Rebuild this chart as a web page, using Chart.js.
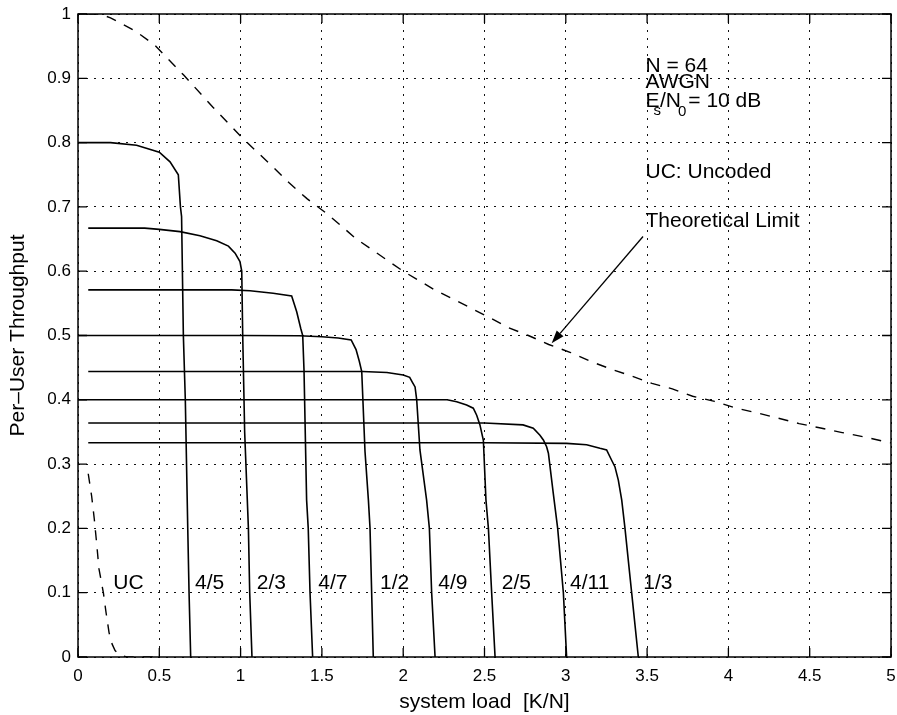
<!DOCTYPE html>
<html lang="en">
<head>
<meta charset="UTF-8">
<title>Per-User Throughput vs System Load</title>
<script src="https://cdn.jsdelivr.net/npm/chart.js"></script>
<style>
    html, body { margin: 0; padding: 0; background: #fff; }
    #wrap { width: 897px; height: 715px; }
</style>
</head>
<body>
<div id="wrap"><canvas id="tputChart" width="897" height="715"></canvas></div>
<script>
// axis ticks
const xTickLabels = ['0', '0.5', '1', '1.5', '2', '2.5', '3', '3.5', '4', '4.5', '5'];
const yTickLabels = ['0', '0.1', '0.2', '0.3', '0.4', '0.5', '0.6', '0.7', '0.8', '0.9', '1'];

// coded curves: load K/N and per-user throughput
const loadR45 = [0, 0.2, 0.36, 0.5, 0.566, 0.617, 0.63, 0.637, 0.648, 0.66, 0.675, 0.683, 0.693];
const tputR45 = [0.8, 0.8, 0.796, 0.785, 0.77, 0.75, 0.70, 0.685, 0.5, 0.4, 0.2, 0.1, 0];

const loadR23 = [0.063, 0.41, 0.5, 0.627, 0.75, 0.853, 0.925, 0.966, 0.996, 1.007, 1.013, 1.025, 1.048, 1.056, 1.07];
const tputR23 = [0.667, 0.667, 0.665, 0.6615, 0.655, 0.6475, 0.639, 0.628, 0.615, 0.6, 0.5, 0.35, 0.2, 0.1, 0];

const loadR47 = [0.063, 0.945, 1.058, 1.2, 1.314, 1.345, 1.37, 1.382, 1.39, 1.406, 1.416, 1.427, 1.443];
const tputR47 = [0.571, 0.571, 0.5697, 0.5656, 0.5614, 0.537, 0.511, 0.5, 0.446, 0.244, 0.2, 0.1, 0];

const loadR12 = [0, 1.0, 1.36, 1.5, 1.6, 1.68, 1.71, 1.73, 1.745, 1.765, 1.786, 1.796, 1.806, 1.816];
const tputR12 = [0.5, 0.5, 0.4997, 0.498, 0.496, 0.493, 0.478, 0.46, 0.444, 0.32, 0.244, 0.2, 0.1, 0];

const loadR49 = [0.063, 1.75, 1.9, 2.0, 2.04, 2.055, 2.073, 2.083, 2.103, 2.144, 2.161, 2.175, 2.196];
const tputR49 = [0.444, 0.444, 0.4425, 0.4386, 0.435, 0.428, 0.42, 0.40, 0.322, 0.244, 0.2, 0.1, 0];

const loadR25 = [0, 2.0, 2.27, 2.329, 2.39, 2.431, 2.452, 2.472, 2.493, 2.509, 2.524, 2.544, 2.565];
const tputR25 = [0.4, 0.4, 0.4, 0.397, 0.392, 0.387, 0.376, 0.361, 0.337, 0.244, 0.2, 0.1, 0];

const loadR411 = [0.063, 2.5, 2.737, 2.8, 2.841, 2.862, 2.882, 2.893, 2.923, 2.95, 2.985, 3.005];
const tputR411 = [0.364, 0.364, 0.361, 0.3557, 0.345, 0.3375, 0.327, 0.317, 0.2546, 0.2, 0.1, 0];

const loadR13 = [0.063, 2.5, 3.005, 3.128, 3.21, 3.251, 3.282, 3.302, 3.323, 3.344, 3.364, 3.405, 3.446];
const tputR13 = [0.3333, 0.3333, 0.3323, 0.33, 0.3245, 0.322, 0.306, 0.296, 0.275, 0.244, 0.2, 0.1, 0];

// uncoded
const loadUC = [0.063, 0.084, 0.1, 0.115, 0.129, 0.156, 0.172, 0.191, 0.21, 0.228, 0.258, 0.3, 0.5];
const tputUC = [0.285, 0.25, 0.215, 0.176, 0.137, 0.1, 0.07, 0.038, 0.02, 0.01, 0.003, 0, 0];

// theoretical limit
const loadLimit = [0.063, 0.135, 0.2, 0.35, 0.47, 0.65, 0.83, 1.015, 1.2, 1.3, 1.41, 1.515, 1.61, 1.71,
    2.0, 2.2, 2.41, 2.53, 2.645, 2.77, 2.895, 3.03, 3.15, 3.27, 3.41, 3.53, 3.655, 3.78, 3.915,
    4.04, 4.18, 4.305, 4.435, 4.56, 4.7, 4.83, 5.0];
const tputLimit = [1.0, 1.0, 0.994, 0.974, 0.952, 0.905, 0.855, 0.806, 0.762, 0.737, 0.7125, 0.6925, 0.6725, 0.6505,
    0.60, 0.57, 0.5435, 0.528, 0.5125, 0.50, 0.486, 0.4735, 0.46, 0.4485, 0.4365, 0.4255, 0.417, 0.4055, 0.3975,
    0.3875, 0.3795, 0.3715, 0.363, 0.3565, 0.349, 0.3425, 0.333];

// curve labels along the bottom
const rateLabels = ['UC', '4/5', '2/3', '4/7', '1/2', '4/9', '2/5', '4/11', '1/3'];
const rateLabelX = [0.217, 0.72, 1.099, 1.478, 1.857, 2.216, 2.606, 3.026, 3.477];
const rateLabelY = 0.106;

// notes in the upper right
const noteLines = ['N = 64', 'AWGN', null, 'UC: Uncoded', 'Theoretical Limit'];
const noteX = 3.49;
const noteY = [0.9103, 0.8844, 0.8558, 0.7445, 0.6692];
const arrowFrom = [3.475, 0.654];
const arrowTo = [2.913, 0.488];

const FONT = '"Liberation Sans", Arial, Helvetica, sans-serif';

function pts(xs, ys) {
    return xs.map((x, i) => ({ x: x, y: ys[i] }));
}

function curve(xs, ys, dash) {
    return {
        data: pts(xs, ys),
        showLine: true,
        borderColor: '#000',
        borderWidth: dash ? 1.4 : 1.6,
        borderDash: dash || [],
        pointRadius: 0,
        tension: 0,
        fill: false
    };
}

const datasets = [
    curve(loadLimit, tputLimit, [10, 9]),
    curve(loadUC, tputUC, [10, 9]),
    curve(loadR45, tputR45),
    curve(loadR23, tputR23),
    curve(loadR47, tputR47),
    curve(loadR12, tputR12),
    curve(loadR49, tputR49),
    curve(loadR25, tputR25),
    curve(loadR411, tputR411),
    curve(loadR13, tputR13)
];

// box around the plot with inward tick marks on all four sides
const frame = {
    id: 'frame',
    afterDraw(chart) {
        const { ctx, chartArea: a, scales } = chart;
        ctx.save();
        ctx.strokeStyle = '#000';
        ctx.lineWidth = 1.5;
        ctx.strokeRect(a.left, a.top, a.right - a.left, a.bottom - a.top);
        ctx.lineWidth = 1.3;
        const len = 9;
        ctx.beginPath();
        scales.x.ticks.forEach(t => {
            const px = scales.x.getPixelForValue(t.value);
            ctx.moveTo(px, a.bottom); ctx.lineTo(px, a.bottom - len);
            ctx.moveTo(px, a.top); ctx.lineTo(px, a.top + len);
        });
        scales.y.ticks.forEach(t => {
            const py = scales.y.getPixelForValue(t.value);
            ctx.moveTo(a.left, py); ctx.lineTo(a.left + len, py);
            ctx.moveTo(a.right, py); ctx.lineTo(a.right - len, py);
        });
        ctx.stroke();
        ctx.restore();
    }
};

// rate labels, notes and the arrow to the limit curve
const notes = {
    id: 'notes',
    afterDatasetsDraw(chart) {
        const { ctx, scales } = chart;
        const X = v => scales.x.getPixelForValue(v);
        const Y = v => scales.y.getPixelForValue(v);
        ctx.save();
        ctx.fillStyle = '#000';
        ctx.textAlign = 'left';
        ctx.textBaseline = 'alphabetic';
        ctx.font = '21px ' + FONT;

        rateLabels.forEach((s, i) => ctx.fillText(s, X(rateLabelX[i]), Y(rateLabelY)));

        const x0 = X(noteX);
        noteLines.forEach((s, i) => {
            if (s) ctx.fillText(s, x0, Y(noteY[i]));
        });

        // E_s/N_0 = 10 dB
        const yb = Y(noteY[2]);
        let x = x0;
        ctx.font = '21px ' + FONT;
        ctx.fillText('E', x, yb);
        x += ctx.measureText('E').width - 6;
        ctx.font = '15px ' + FONT;
        ctx.fillText('s', x, yb + 8);
        x += ctx.measureText('s').width - 1;
        ctx.font = '21px ' + FONT;
        ctx.fillText('/N', x, yb);
        x += ctx.measureText('/N').width - 3;
        ctx.font = '15px ' + FONT;
        ctx.fillText('0', x, yb + 9);
        x += ctx.measureText('0').width + 2;
        ctx.font = '21px ' + FONT;
        ctx.fillText('= 10 dB', x, yb);

        // arrow
        const ax = X(arrowFrom[0]), ay = Y(arrowFrom[1]);
        const bx = X(arrowTo[0]), by = Y(arrowTo[1]);
        const ang = Math.atan2(by - ay, bx - ax);
        const hl = 13, hw = 4.5;
        ctx.strokeStyle = '#000';
        ctx.lineWidth = 1.3;
        ctx.beginPath();
        ctx.moveTo(ax, ay);
        ctx.lineTo(bx - Math.cos(ang) * hl, by - Math.sin(ang) * hl);
        ctx.stroke();
        ctx.beginPath();
        ctx.moveTo(bx, by);
        ctx.lineTo(bx - Math.cos(ang) * hl + Math.sin(ang) * hw, by - Math.sin(ang) * hl - Math.cos(ang) * hw);
        ctx.lineTo(bx - Math.cos(ang) * hl - Math.sin(ang) * hw, by - Math.sin(ang) * hl + Math.cos(ang) * hw);
        ctx.closePath();
        ctx.fill();
        ctx.restore();
    }
};

const dotted = { color: '#111', lineWidth: 1, drawTicks: false };

const ctx = document.getElementById('tputChart').getContext('2d');
new Chart(ctx, {
    type: 'scatter',
    data: { datasets: datasets },
    options: {
        responsive: false,
        animation: false,
        layout: { padding: { top: 14, right: 6, left: 0, bottom: 0 } },
        plugins: { legend: { display: false }, tooltip: { enabled: false } },
        scales: {
            x: {
                type: 'linear', min: 0, max: 5,
                afterFit: s => { s.height = 58; s.paddingLeft = 0; s.paddingRight = 0; },
                ticks: {
                    stepSize: 0.5, padding: 9, color: '#000',
                    font: { family: FONT, size: 17 },
                    callback: (v, i) => xTickLabels[i]
                },
                grid: dotted,
                border: { display: false, dash: [2, 6] },
                title: {
                    display: true, text: 'system load  [K/N]', color: '#000',
                    font: { family: FONT, size: 21 }, padding: { top: 0, bottom: 0 }
                }
            },
            y: {
                type: 'linear', min: 0, max: 1,
                afterFit: s => { s.width = 78; s.paddingTop = 0; s.paddingBottom = 0; },
                ticks: {
                    stepSize: 0.1, padding: 7, color: '#000',
                    font: { family: FONT, size: 17 },
                    callback: (v, i) => yTickLabels[i]
                },
                grid: dotted,
                border: { display: false, dash: [2, 6] },
                title: {
                    display: true, text: 'Per–User Throughput', color: '#000',
                    font: { family: FONT, size: 21 }, padding: { top: 6, bottom: 0 }
                }
            }
        }
    },
    plugins: [frame, notes]
});
</script>
</body>
</html>
